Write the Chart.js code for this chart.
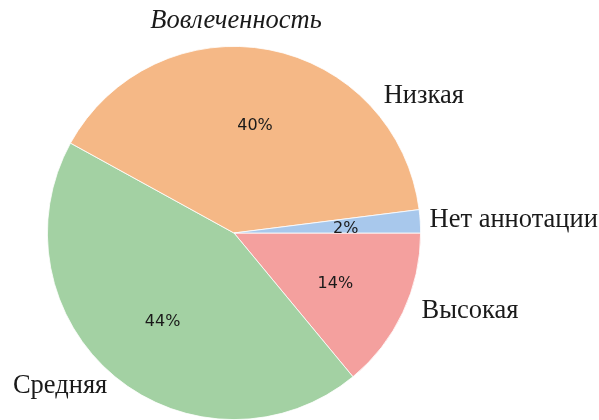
<!DOCTYPE html>
<html lang="ru">
<head>
  <meta charset="UTF-8">
  <title>Вовлеченность</title>
  <script src="https://cdn.jsdelivr.net/npm/chart.js"></script>
  <style>
    body {
      margin: 0;
      background: #fff;
    }
    #wrap {
      width: 599px;
      height: 420px;
    }
  </style>
</head>
<body>
  <div id="wrap">
    <canvas id="pieChart" width="599" height="420"></canvas>
  </div>

  <script>
    // categories in counter-clockwise order, starting at 3 o'clock
    const categories = ['Нет аннотации', 'Низкая', 'Средняя', 'Высокая'];
    const shares = [2, 40, 44, 14];
    const colors = ['#a8c8ec', '#f5b886', '#a3d1a3', '#f4a09e'];
    const titleText = 'Вовлеченность';

    // Chart.js goes clockwise, so reverse to get the matplotlib look
    const labels = categories.slice().reverse();
    const values = shares.slice().reverse();
    const bg = colors.slice().reverse();

    // where each category name sits, in radii from the centre (left/right aligned, baseline)
    const nameSpots = {
      'Низкая':        { dx: 0.802, dy: -0.695, align: 'left' },
      'Нет аннотации': { dx: 1.048, dy: -0.032, align: 'left' },
      'Высокая':       { dx: 1.005, dy: 0.455, align: 'left' },
      'Средняя':       { dx: -0.679, dy: 0.856, align: 'right' }
    };

    const pieText = {
      id: 'pieText',
      afterDatasetsDraw(chart) {
        const ctx = chart.ctx;
        const arcs = chart.getDatasetMeta(0).data;
        const total = values.reduce((a, b) => a + b, 0);
        const cx = arcs[0].x, cy = arcs[0].y, r = arcs[0].outerRadius;
        ctx.save();

        // percentages at 0.6 radius
        ctx.font = '16px "DejaVu Sans"';
        ctx.fillStyle = '#1a1a1a';
        ctx.textAlign = 'center';
        ctx.textBaseline = 'middle';
        arcs.forEach((arc, i) => {
          const mid = (arc.startAngle + arc.endAngle) / 2;
          const pct = Math.round(values[i] / total * 100) + '%';
          ctx.fillText(pct, cx + Math.cos(mid) * r * 0.6, cy + Math.sin(mid) * r * 0.6 + 3);
        });

        // category names
        ctx.font = '26.5px "Liberation Serif"';
        ctx.fillStyle = '#1a1a1a';
        ctx.textBaseline = 'alphabetic';
        labels.forEach(name => {
          const s = nameSpots[name];
          ctx.textAlign = s.align;
          ctx.fillText(name, cx + s.dx * r, cy + s.dy * r);
        });

        // title
        ctx.font = 'italic 26.5px "Liberation Serif"';
        ctx.textAlign = 'center';
        ctx.fillText(titleText, cx + 2, cy - r - 18);
        ctx.restore();
      }
    };

    new Chart(document.getElementById('pieChart'), {
      type: 'pie',
      data: {
        labels: labels,
        datasets: [{
          data: values,
          backgroundColor: bg,
          borderColor: '#ffffff',
          borderWidth: 0.8
        }]
      },
      options: {
        responsive: false,
        animation: false,
        rotation: 90,
        layout: {
          padding: { left: 47, right: 178, top: 46, bottom: 0 }
        },
        plugins: {
          legend: { display: false },
          tooltip: { enabled: false },
          title: { display: false }
        }
      },
      plugins: [pieText]
    });
  </script>
</body>
</html>
